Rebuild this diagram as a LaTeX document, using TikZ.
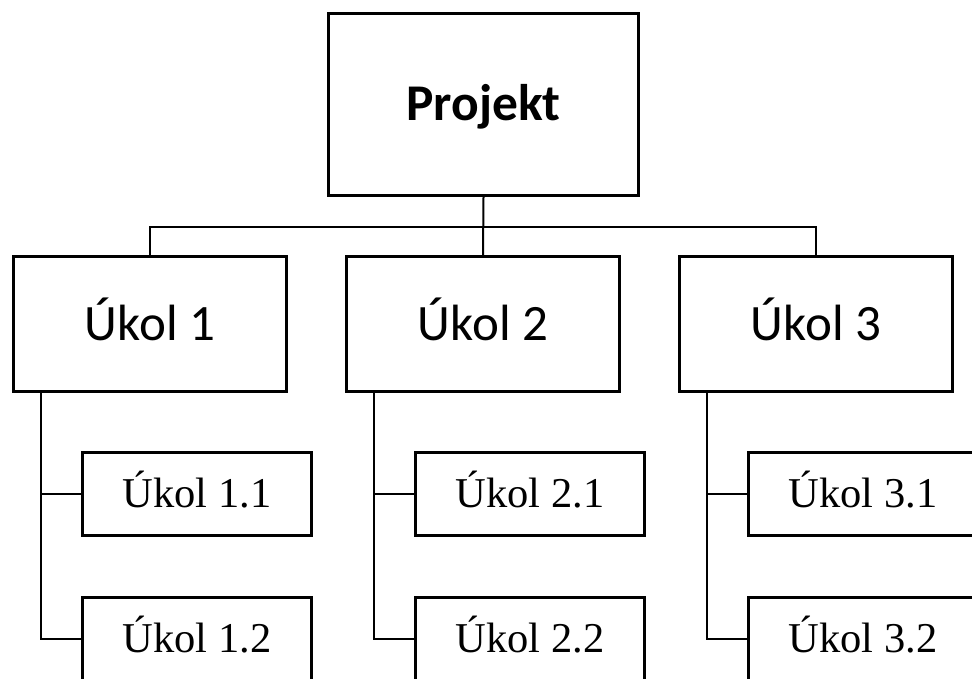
\documentclass[tikz,border=0pt]{standalone}
\usepackage{fontspec}
\setmainfont{Carlito}
\newfontfamily\serifsub{Liberation Serif}
\begin{document}
\begin{tikzpicture}[x=1pt,y=1pt,
  topbox/.style={draw=black,line width=3.3pt,fill=white,inner sep=0pt,
    minimum width=310pt,minimum height=182pt,
    font=\fontsize{51.5}{60}\selectfont\bfseries,text height=33pt,text depth=0pt},
  taskbox/.style={draw=black,line width=3.3pt,fill=white,inner sep=0pt,
    minimum width=273pt,minimum height=135pt,
    font=\fontsize{51}{60}\selectfont,text height=33pt,text depth=0pt},
  subbox/.style={draw=black,line width=3.3pt,fill=white,inner sep=0pt,
    minimum width=229pt,minimum height=83pt,
    font=\serifsub\fontsize{42.5}{50}\selectfont,text height=28pt,text depth=0pt},
  conn/.style={draw=black,line width=2pt}]
\clip (0,0) rectangle (972,679);
\fill[white] (0,0) rectangle (972,679);

\coordinate (j) at (483,452);
\coordinate (d1) at (41,355);
\coordinate (d2) at (374,355);
\coordinate (d3) at (707,355);

\node[topbox] (P) at (483.5,574.5) {Projekt};
\node[taskbox] (u1) at (150,355) {Úkol 1};
\node[taskbox] (u2) at (483,355) {Úkol 2};
\node[taskbox] (u3) at (816,355) {Úkol 3};

\node[subbox] (s11) at (197,185) {Úkol 1.1};
\node[subbox] (s12) at (197,40) {Úkol 1.2};
\node[subbox] (s21) at (530,185) {Úkol 2.1};
\node[subbox] (s22) at (530,40) {Úkol 2.2};
\node[subbox] (s31) at (863,185) {Úkol 3.1};
\node[subbox] (s32) at (863,40) {Úkol 3.2};

\draw[conn] (P.south) -- (u2.north);
\draw[conn] (u1.north) |- (j) -| (u3.north);
\draw[conn] (d1 |- u1.south) |- (s12.west);
\draw[conn] (d1 |- s11.west) -- (s11.west);
\draw[conn] (d2 |- u2.south) |- (s22.west);
\draw[conn] (d2 |- s21.west) -- (s21.west);
\draw[conn] (d3 |- u3.south) |- (s32.west);
\draw[conn] (d3 |- s31.west) -- (s31.west);
\end{tikzpicture}
\end{document}
